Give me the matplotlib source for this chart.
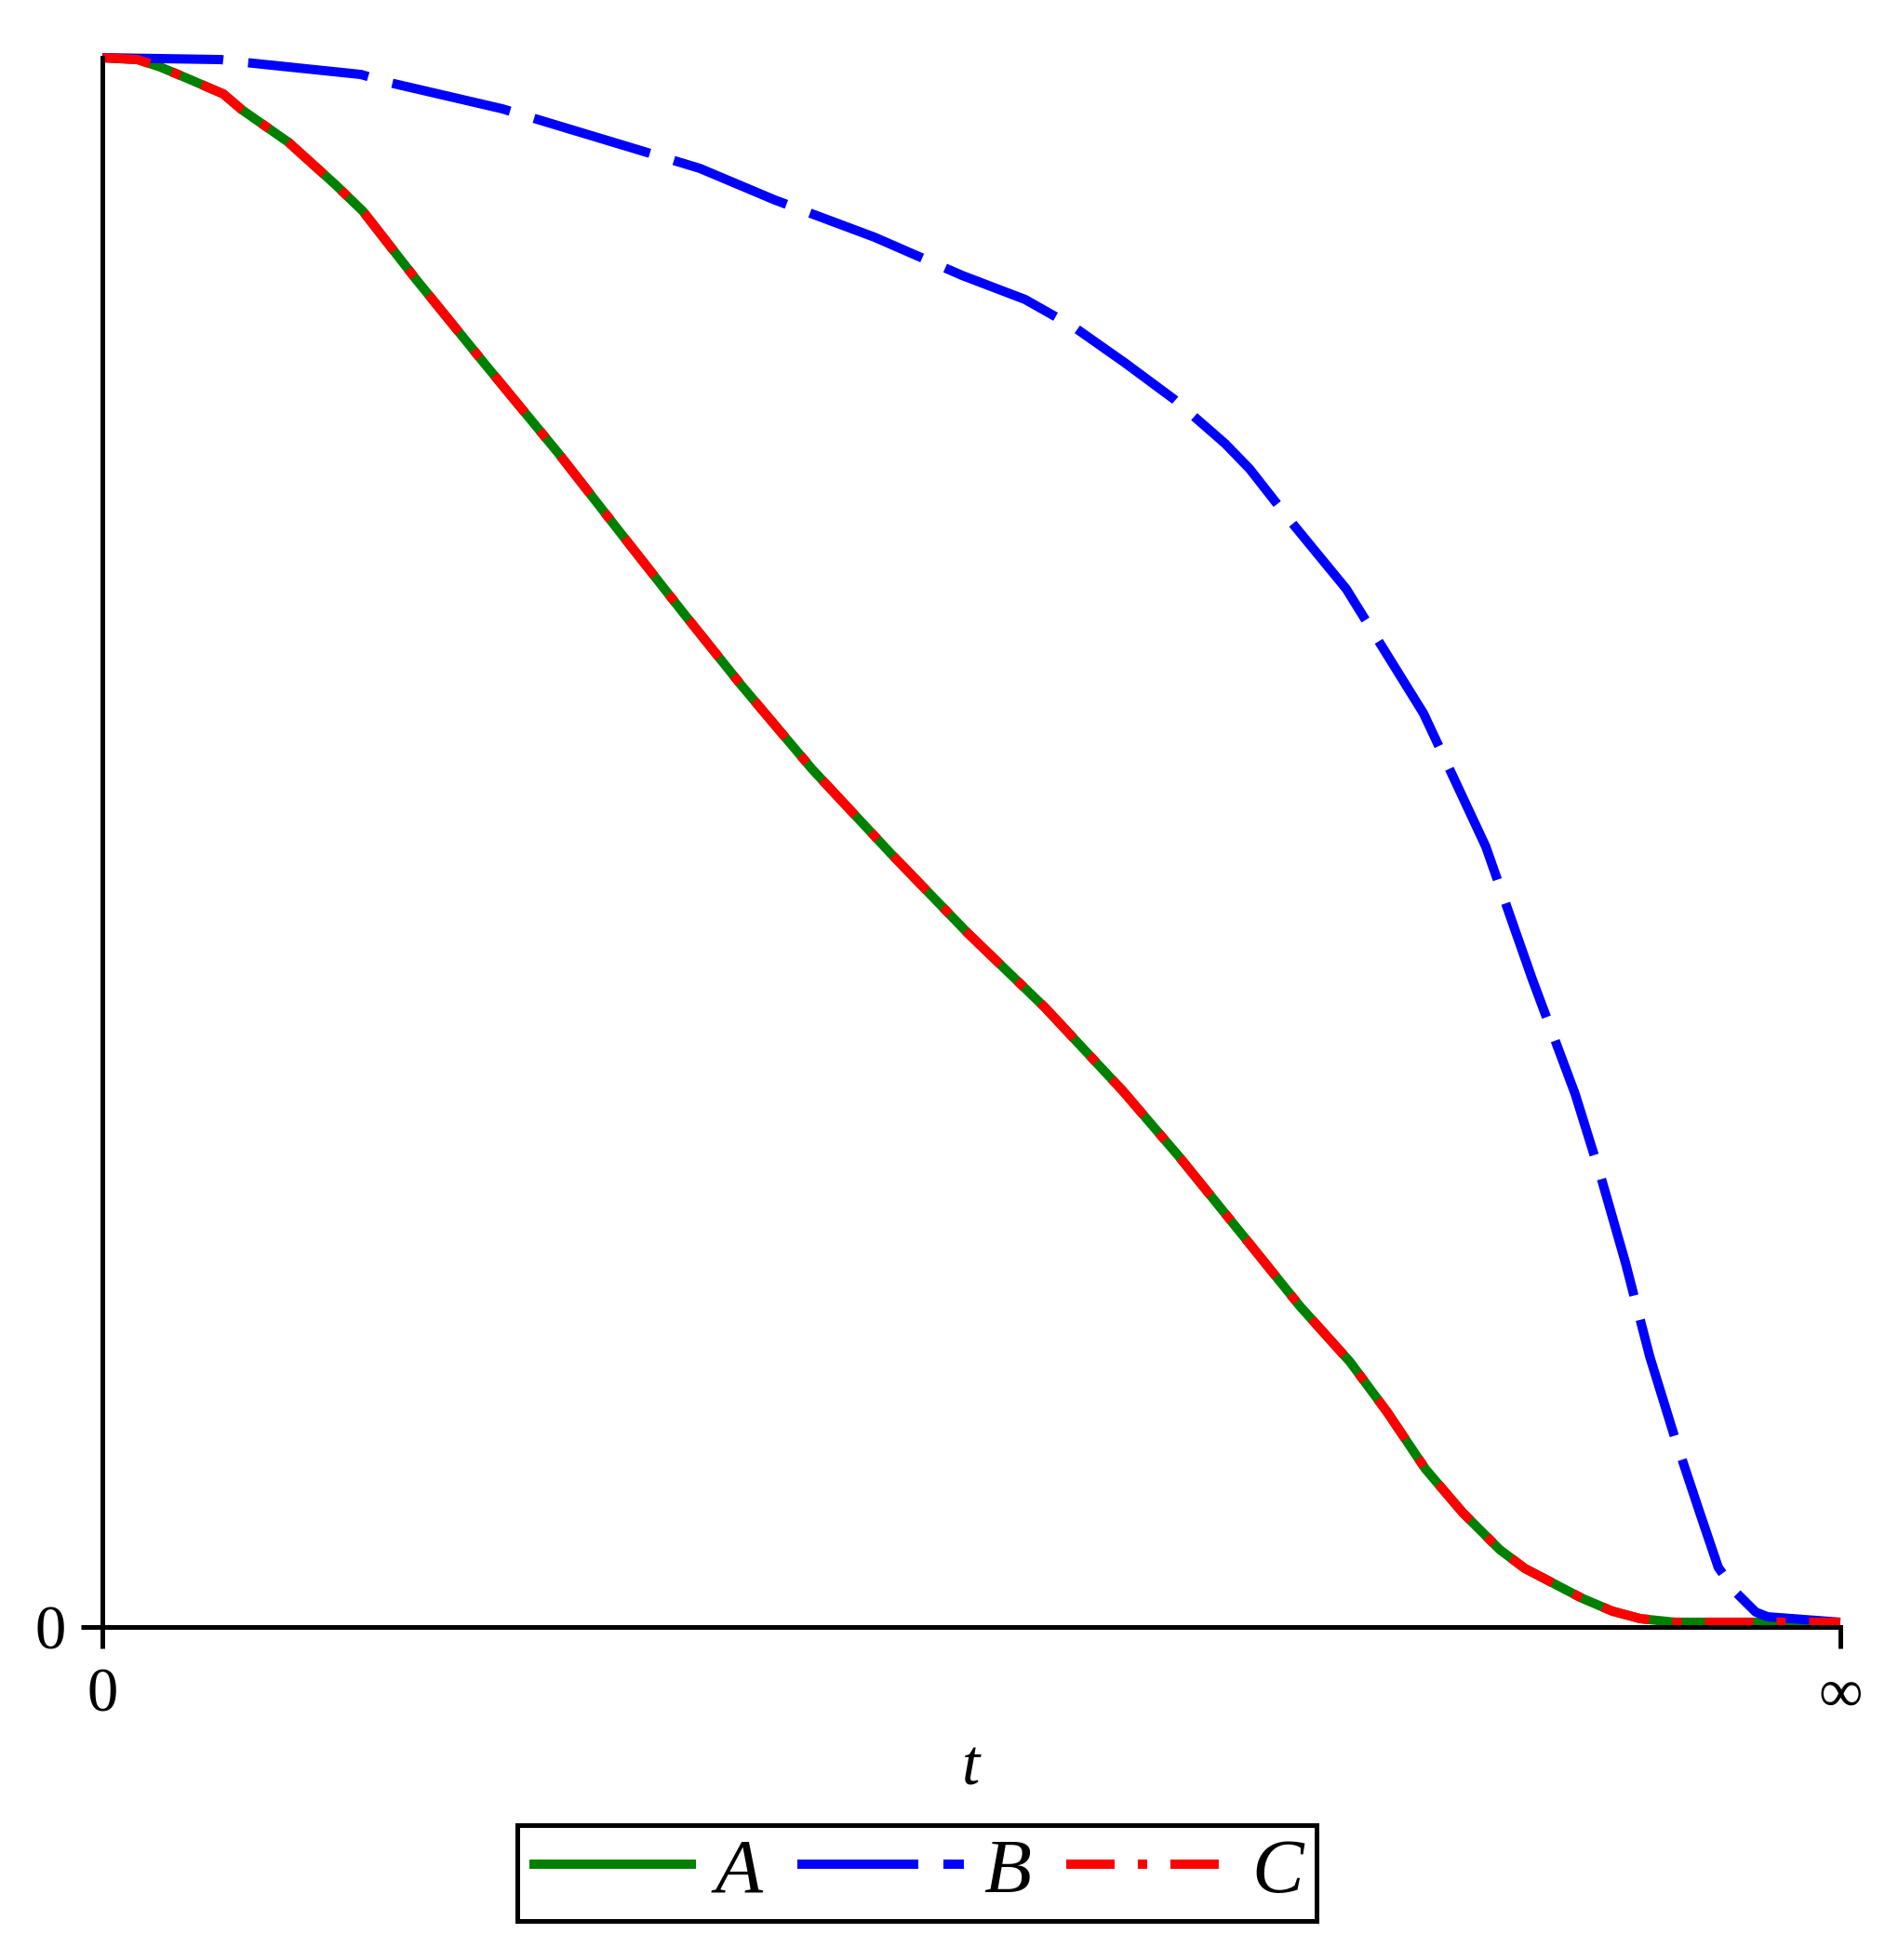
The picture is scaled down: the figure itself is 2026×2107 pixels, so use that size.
import numpy as np
import matplotlib.pyplot as plt

plt.rcParams['font.family'] = ['Liberation Serif', 'DejaVu Serif']
plt.rcParams['lines.scale_dashes'] = False

# positions sur l'axe compactifie : 0 a gauche, infini a droite (1)
t_A = [0.0, 0.0203, 0.0332, 0.0498, 0.0696, 0.0803, 0.1071, 0.1338, 0.1499, 0.1804,
       0.2195, 0.2623, 0.2982, 0.3335, 0.3678, 0.4085, 0.4534, 0.4979, 0.5423, 0.5873,
       0.6194, 0.6601, 0.6890, 0.7179, 0.7393, 0.7612, 0.7827, 0.8041, 0.8185, 0.8512,
       0.8688, 0.8849, 0.9047, 1.0]
y_A = [1.0, 0.9988, 0.9941, 0.9864, 0.9769, 0.9668, 0.9461, 0.9194, 0.9022, 0.8589,
       0.8056, 0.7481, 0.6971, 0.6473, 0.5999, 0.5465, 0.4932, 0.4422, 0.3948, 0.3414,
       0.2999, 0.2442, 0.2045, 0.1689, 0.1369, 0.1008, 0.0729, 0.0492, 0.0373, 0.0184,
       0.0101, 0.0053, 0.003, 0.003]

t_B = [0.0, 0.068, 0.0819, 0.1488, 0.1633, 0.2302, 0.3437, 0.3870, 0.4443, 0.4946,
       0.5310, 0.5594, 0.5883, 0.6172, 0.6461, 0.6601, 0.6836, 0.7157, 0.7602, 0.7960,
       0.8228, 0.8474, 0.8619, 0.8763, 0.8903, 0.9047, 0.9191, 0.9298, 0.9406, 0.9513,
       0.9582, 1.0]
y_B = [1.0, 0.9988, 0.997, 0.9893, 0.9846, 0.9674, 0.9295, 0.9093, 0.8856, 0.8613,
       0.8459, 0.8281, 0.8056, 0.7819, 0.7540, 0.7380, 0.7048, 0.6615, 0.5821, 0.4973,
       0.4126, 0.3397, 0.2881, 0.2324, 0.1725, 0.1209, 0.0729, 0.0379, 0.0213, 0.0095,
       0.0065, 0.003]

# C se confond avec A sur toute la courbe
t_C = list(t_A)
y_C = list(y_A)

ticks_x = [0, 1]
labels_ticks_x = ["0", "\u221e"]
ticks_y = [0]
labels_ticks_y = ["0"]
noms = ["A", "B", "C"]

fig = plt.figure(figsize=(20.26, 21.07), dpi=100)
ax = fig.add_axes([0.05429, 0.16991, 0.92201, 0.80066])

epaisseur = 7.2
ax.plot(t_A, y_A, color="#008000", lw=epaisseur, solid_capstyle="butt",
        clip_on=False, label=noms[0])
ax.plot(t_B, y_B, color="#0000ff", lw=epaisseur, dashes=(93.6, 19.4),
        dash_capstyle="butt", clip_on=False, label=noms[1])
ax.plot(t_C, y_C, color="#ff0000", lw=epaisseur, dashes=(37.4, 18, 7.2, 18),
        dash_capstyle="butt", clip_on=False, label=noms[2])

ax.set_xlim(0, 1)
ax.set_ylim(0, 1)
for cote in ["top", "right"]:
    ax.spines[cote].set_visible(False)
for cote in ["left", "bottom"]:
    ax.spines[cote].set_linewidth(3.6)

ax.set_xticks(ticks_x, labels_ticks_x)
ax.set_yticks(ticks_y, labels_ticks_y)
ax.tick_params(axis="both", direction="out", length=16.6, width=3.6, labelsize=48)
ax.tick_params(axis="x", pad=15)
ax.tick_params(axis="y", pad=11.5)

ax.set_xlabel("t", fontsize=50, style="italic")
ax.xaxis.set_label_coords(0.5, -0.1002)
ax.xaxis.label.set_verticalalignment("baseline")

leg = ax.legend(loc="center", bbox_to_anchor=(0.4862, 0.0444), bbox_transform=fig.transFigure,
                ncol=3, prop={"size": 60, "style": "italic"}, frameon=True, fancybox=False,
                edgecolor="black", framealpha=1, handlelength=2.15, handletextpad=0.25,
                columnspacing=0.45, borderpad=0.16, borderaxespad=0)
leg.get_frame().set_linewidth(3.6)

fig.savefig("out.png", dpi=100)
